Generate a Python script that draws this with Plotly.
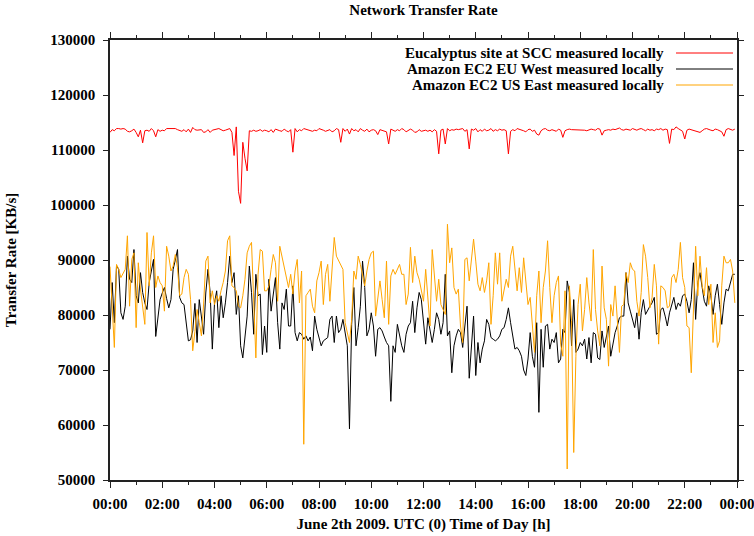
import numpy as np
import pandas as pd
import plotly.graph_objects as go

# ---------------- data (KB/s), one sample every 5 minutes ----------------
series_names = [
    "Eucalyptus site at SCC measured locally",
    "Amazon EC2 EU West measured locally",
    "Amazon EC2 US East measured locally",
]
series_colors = ["#ff0000", "#000000", "#ffa500"]

scc_local = [
    113200, 113700, 113500, 113900, 113900, 113800, 113900, 113800, 113400, 113300, 113500, 113800,
    113200, 112400, 113600, 111300, 113500, 113600, 113400, 113900, 113500, 112400, 113700, 113400,
    113600, 113500, 113900, 113900, 113900, 114000, 113900, 113700, 113500, 113400, 113700, 113300,
    113800, 113200, 114100, 113700, 113600, 113600, 113700, 113200, 113300, 113700, 113200, 113600,
    113700, 113800, 113900, 113700, 113500, 113600, 113800, 113900, 113200, 109000, 114200, 102500,
    100300, 111400, 108500, 106200, 113500, 113400, 113600, 113400, 113500, 113700, 113400, 113600,
    113500, 113300, 113700, 113200, 113800, 113600, 113500, 113400, 113800, 113500, 113300, 113700,
    109600, 113900, 113300, 113700, 113500, 113900, 113800, 113600, 113500, 113400, 113600, 113500,
    113900, 113800, 113600, 113400, 113600, 113700, 113300, 113500, 113900, 113700, 111400, 113900,
    113400, 113800, 112900, 113900, 113500, 113700, 113300, 113900, 113600, 113400, 113800, 113300,
    113600, 113700, 113500, 112800, 113700, 113600, 113500, 113300, 111100, 113800, 113600, 113400,
    113700, 113500, 113900, 113700, 113300, 113500, 113800, 113600, 113200, 113300, 113700, 113400,
    113500, 113600, 113400, 113600, 113300, 113700, 113400, 109300, 113600, 113800, 111100, 113900,
    113500, 113700, 113600, 113800, 113700, 113800, 113900, 113400, 113700, 110200, 113800, 113600,
    113900, 113300, 113700, 113400, 113800, 113500, 113600, 113900, 113400, 113700, 113500, 113800,
    113600, 113700, 113500, 109300, 113400, 113700, 113500, 113900, 113800, 113600, 113500, 113300,
    113700, 113800, 113400, 113600, 112900, 112700, 113500, 113800, 113900, 113600, 113500, 113700,
    113600, 113400, 113800, 113600, 112300, 113500, 113700, 113800, 113700, 113700, 113600, 113700,
    113700, 113700, 113600, 113500, 113700, 113800, 113700, 113600, 113900, 113800, 112700, 113500,
    113600, 113700, 113600, 113800, 113700, 113900, 114000, 113700, 113600, 113800, 113700, 113600,
    113900, 113700, 113600, 113800, 113900, 113700, 113500, 113800, 113600, 113700, 113500, 113800,
    113700, 113900, 113600, 113800, 113700, 111200, 113800, 113700, 114200, 113900, 113600, 113400,
    112000, 113600, 113800, 113700, 113600, 113500, 113300, 113200, 113500, 113800, 113900, 113700,
    113600, 113500, 113800, 113700, 113500, 113300, 112500, 113700, 113900, 113700, 113600, 113800,
]

eu_west_local = [
    # 00:00 - 06:00
    77400, 85900, 78600, 89000, 88300, 80400, 79200, 81600, 90700, 86500,
    85900, 91900, 83500, 82200, 87700, 84100, 82200, 81000, 85900, 88000,
    90100, 76100, 79800, 82800, 84000, 85000, 83000, 81300, 82800, 88300,
    90000, 91900, 83200, 82200, 81900, 78500, 75300, 75500, 77100, 82100,
    75000, 82800, 79000, 76500, 84000, 88300, 84100, 73800, 82200, 84400,
    77700, 83500, 79500, 82200, 85900, 90700, 85900, 87700, 80100, 83500,
    74400, 72200, 76000, 79800, 88900, 84100, 76500, 87400, 83500, 83800,
    72800, 78000,
    # 06:00 - 12:05
    73200, 86500, 80700, 83800, 86800, 78600, 73800, 82200, 81000, 84700,
    78000, 78000, 85300, 76800, 75300, 76800, 76500, 75600, 76200, 75300,
    76000, 73500, 79800, 77400, 75600, 74400, 75300, 75600, 75900, 79200,
    79800, 75000, 79800, 76800, 77400, 79200, 77100, 74400, 59300, 78300,
    85000, 74400, 77700, 81600, 89800, 85000, 76200, 77400, 80400, 78000,
    72500, 77400, 77700, 77100, 76000, 75000, 74400, 64300, 74400, 73200,
    78300, 76200, 74400, 73200, 76500, 78000, 78600, 82500, 76800, 81300,
    84100, 82800, 79200,
    # 12:05 - 18:05
    74700, 79500, 77400, 75000, 77400, 80400, 79200, 76500, 78600, 87400,
    76200, 77100, 69500, 74400, 76200, 77400, 76800, 74100, 78000,
    81600, 68500, 73800, 79800, 69000, 75000, 71300, 73800, 75300, 79200,
    78300, 75900, 75600, 75300, 75600, 76200, 77400, 77700, 79200, 81300,
    78600, 76200, 73800, 74100, 73500, 72500, 70000, 69000, 72000, 76800,
    72500, 70500, 78600, 62300, 77400, 70500, 78000, 78300, 73800,
    75600, 75000, 76800, 71300, 72000, 77400, 76800, 86200, 84100, 74400,
    82800, 73200, 73800, 75000,
    # 18:05 - 24:00
    74400, 75600, 72000, 75900, 71300, 76800, 76500, 72200, 71900, 77100,
    74100, 76200, 78000, 72500, 75000, 76800, 78000, 79500, 79800,
    79800, 87700, 82200, 80700, 79200, 77700, 80400, 75600, 80400, 82800,
    80100, 81000, 81600, 82200, 83200, 76500, 76800, 81000, 81300, 79800,
    78000, 80400, 81600, 83200, 81000, 82200, 81600, 83500, 83800, 82500,
    80400, 82800, 89500, 79200, 85900, 87700, 85000, 82500, 81600, 85300,
    83500, 80100, 83500, 85600, 81900, 78300, 82200, 84700,
    84400, 86200, 87400, 87400,
]

us_east_local = [
    # 00:00 - 06:00
    88800, 80000, 74100, 89200, 88300, 86800, 87700, 88300, 94400, 81600,
    90100, 91300, 77700, 89500, 84700, 81000, 78300, 95000, 85300, 91300,
    94400, 85000, 87100, 85900, 85300, 80700, 92500, 90700, 88000, 88900,
    91000, 88600, 83500, 83800, 86800, 88300, 87400, 82800, 73500, 77000,
    81000, 78600, 76200, 82000, 89800, 90700, 82200, 84400, 81900, 83500,
    82500, 84400, 85900, 88000, 93500, 94400, 85300, 85000, 84400, 81600,
    81300, 83500, 86500, 91300, 92500, 93200, 82800, 72200, 87400, 91900,
    91600, 84400,
    # 06:00 - 12:05
    84400, 85300, 88300, 91000, 89500, 82500, 92500, 90700, 88900, 87400,
    85000, 87400, 83800, 88000, 90100, 82200, 88000, 56500, 83500, 84100,
    84700, 81600, 80400, 86200, 87700, 89800, 81900, 87400, 89200, 82500,
    87700, 94100, 90700, 89800, 89200, 88300, 78600, 76500, 75000, 79200,
    88000, 86500, 90700, 89200, 87400, 85300, 88000, 90100, 91300, 91600,
    79800, 83500, 86200, 82800, 79500, 89800, 78300, 87100, 88300, 87400,
    88300, 89200, 87400, 87400, 81900, 83800, 92300, 85900, 90700, 87700,
    86500, 84400, 82500,
    # 12:05 - 18:05
    88300, 82800, 78000, 91900, 86500, 82500, 86500, 81900, 81000, 80100,
    96500, 89500, 92200, 85000, 83800, 84700, 78000, 75000, 90100, 90400,
    86200, 90100, 93800, 89800, 85600, 84400, 86800, 84100, 86200, 89500,
    78300, 83500, 91300, 85600, 91300, 82500, 84400, 86500, 85000, 90700,
    92500, 88300, 84400, 88600, 84100, 90400, 85900, 81900, 83200, 78900,
    73200, 83500, 88000, 78600, 85000, 88000, 93500, 85000, 78600, 83500,
    85900, 87100, 74700, 72500, 84400, 52000, 85300, 79000, 55000, 72500,
    81900, 85600, 77100,
    # 18:05 - 24:00
    81000, 86800, 82200, 78900, 91900, 81000, 77100, 74400, 88900, 81300,
    79200, 70700, 81900, 79800, 85300, 78000, 73200, 81600, 81900, 87700,
    85900, 89500, 88300, 88000, 82500, 79800, 84100, 92800, 90700, 86800,
    81300, 83200, 89200, 85300, 74700, 85300, 85000, 84400, 81300, 81600,
    86800, 87400, 85900, 88300, 93200, 86800, 85000, 78000, 77700, 69500,
    80400, 92500, 83500, 90700, 85300, 83500, 88600, 81900, 85600, 75000,
    80400, 74100, 75300, 85300, 90700, 89500, 89500, 90100, 88000, 82200,
]

y_ticks = [50000, 60000, 70000, 80000, 90000, 100000, 110000, 120000, 130000]
x_tick_labels = ["00:00", "02:00", "04:00", "06:00", "08:00", "10:00", "12:00",
                 "14:00", "16:00", "18:00", "20:00", "22:00", "00:00"]
day_start = pd.Timestamp("2009-06-02 00:00")
day_end = pd.Timestamp("2009-06-03 00:00")
x_tick_vals = [day_start + pd.Timedelta(hours=2 * i) for i in range(len(x_tick_labels))]


def sample_times(n):
    # measurements evenly spread over the day
    step = (day_end - day_start) / n
    return [day_start + i * step for i in range(n)]


FONT = "Liberation Serif"
fig = go.Figure()
for name, color, vals in zip(series_names, series_colors,
                             [scc_local, eu_west_local, us_east_local]):
    fig.add_trace(go.Scatter(
        x=sample_times(len(vals)), y=vals, mode="lines", name=name,
        line=dict(color=color, width=1), showlegend=False,
    ))

# gnuplot-style key (text right-aligned, sample line to its right)
L, R, T, B = 110, 737, 40, 480
W, H = R - L, B - T
key_rows = [53, 69, 85]
for name, color, ypx in zip(series_names, series_colors, key_rows):
    yp = (B - ypx) / H
    fig.add_annotation(
        x=(666 - L) / W, y=yp, xref="paper", yref="paper", text=name,
        showarrow=False, xanchor="right", yanchor="middle",
        font=dict(family=FONT, size=15, color="black", weight="bold"),
    )
    fig.add_shape(
        type="line", xref="paper", yref="paper",
        x0=(676 - L) / W, x1=(733 - L) / W, y0=yp, y1=yp,
        line=dict(color=color, width=1),
    )

axis_common = dict(
    showline=True, linecolor="#222222", linewidth=1.5, mirror="ticks",
    ticks="outside", tickcolor="#222222", tickwidth=1,
    showgrid=False, zeroline=False, automargin=False,
    tickfont=dict(family=FONT, size=15, color="black", weight="bold"),
)

fig.update_layout(
    width=754, height=536,
    margin=dict(l=L, r=754 - R, t=T, b=536 - B),
    paper_bgcolor="white", plot_bgcolor="white",
    title=dict(text="Network Transfer Rate", x=(423.5) / 754, xanchor="center",
               y=1 - 10 / 536, yanchor="middle", yref="container",
               font=dict(family=FONT, size=15, color="black", weight="bold")),
    xaxis=dict(
        **axis_common,
        type="date", range=[day_start, day_end],
        tickvals=x_tick_vals, ticktext=x_tick_labels, ticklen=6,
        ticklabelstandoff=3, ticklabeloverflow="allow",
        minor=dict(dtick=3600 * 1000, tick0=day_start, ticks="outside", ticklen=3,
                   tickcolor="#222222", showgrid=False),
        title=dict(text="June 2th 2009. UTC (0) Time of Day [h]", standoff=8,
                   font=dict(family=FONT, size=15, color="black", weight="bold")),
    ),
    yaxis=dict(
        **axis_common,
        range=[50000, 130000], tickvals=y_ticks, ticklen=5,
        ticktext=[str(v) for v in y_ticks],
        ticklabelstandoff=5,
        title=dict(text="Transfer Rate [KB/s]", standoff=30,
                   font=dict(family=FONT, size=15, color="black", weight="bold")),
    ),
)

fig.write_html("out.html")
